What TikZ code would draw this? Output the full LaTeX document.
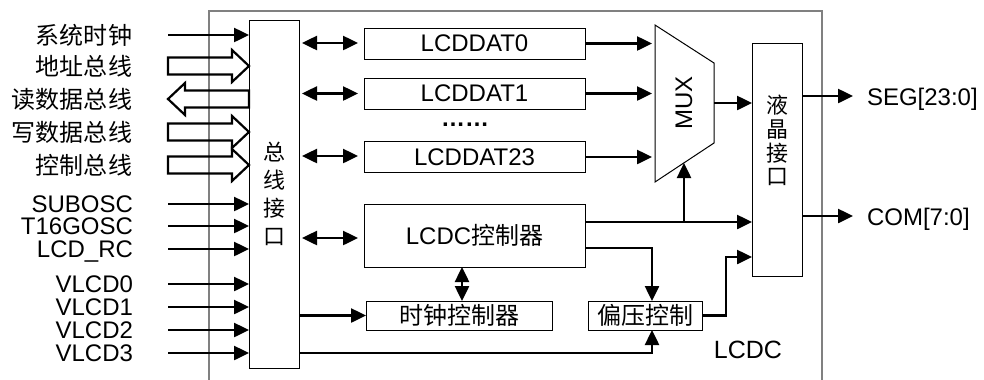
\documentclass[tikz,border=0pt]{standalone}
\usepackage{fontspec}
\setmainfont{Liberation Sans}
\newfontfamily\cjk{Noto Sans CJK SC}
\usetikzlibrary{arrows.meta,calc}
\begin{document}
\begin{tikzpicture}[x=1bp,y=-1bp,
  every node/.style={inner sep=0pt,outer sep=0pt},
  txt/.style={font=\fontsize{24bp}{26bp}\selectfont},
  blk/.style={draw=black,line width=1bp},
  sig/.style={line width=2.5bp,-{Triangle[length=15bp,width=14bp]}},
  dsig/.style={line width=2.5bp,{Triangle[length=15bp,width=14bp]}-{Triangle[length=15bp,width=14bp]}},
  hol/.style={line width=2.2bp,line join=miter},
  busin/.pic={\draw[hol] (-81,-8.5) -- (-17,-8.5) -- (-17,-16) -- (0,0) -- (-17,16) -- (-17,8.5) -- (-81,8.5) -- cycle;},
  busout/.pic={\draw[hol] (0,0) -- (17,-16) -- (17,-8.5) -- (81,-8.5) -- (81,8.5) -- (17,8.5) -- (17,16) -- cycle;}
]
\useasboundingbox (0,0) rectangle (984,379);
% outer LCDC frame
\draw[draw=black!50,line width=1.5bp] (209,385) -- (209,11) -- (822,11) -- (822,385);
\node[txt,font=\fontsize{25bp}{27bp}\selectfont,anchor=base] (lcdc) at (748,358) {LCDC};

% bus interface
\node[blk,minimum width=50bp,minimum height=348bp] (bus) at (274,194) {};
\node[align=center,font=\cjk\fontsize{22bp}{28bp}\selectfont] (bustxt) at (274,194) {总\\线\\接\\口};

% LCD interface
\node[blk,minimum width=50bp,minimum height=233bp] (lcd) at (777,159.5) {};
\node[align=center,font=\cjk\fontsize{22bp}{23.7bp}\selectfont] (lcdtxt) at (777,140.5) {液\\晶\\接\\口};

% data registers
\node[blk,txt,minimum width=221bp,minimum height=31bp] (d0) at (474.5,43.5) {LCDDAT0};
\node[blk,txt,minimum width=221bp,minimum height=31bp] (d1) at (474.5,93.5) {LCDDAT1};
\node[txt,anchor=base] (dots) at (465,126) {\bfseries ……};
\node[blk,txt,minimum width=221bp,minimum height=31bp] (d23) at (474.5,157) {LCDDAT23};

% controller, clock, bias
\node[blk,txt,minimum width=221bp,minimum height=63bp] (ctrl) at (474.5,235.5) {LCDC{\cjk 控制器}};
\node[blk,txt,minimum width=186bp,minimum height=29bp] (clk) at (459,315.5) {\cjk 时钟控制器};
\node[blk,txt,minimum width=114bp,minimum height=29bp] (bias) at (645,315.5) {\cjk 偏压控制};

% MUX
\draw[blk] (655,25) coordinate (m1) -- (714,63) coordinate (m2) -- (714,143) coordinate (m3) -- (655,182) coordinate (m4) -- cycle;
\node[txt,rotate=90] (mux) at (684,103) {MUX};
\coordinate (mo) at (714,103);
\coordinate (mb) at (684,163);

% left signals
\node[txt,anchor=east] (l1) at (132,35) {\cjk 系统时钟};
\node[txt,anchor=east] (l2) at (132,66) {\cjk 地址总线};
\node[txt,anchor=east] (l3) at (132,99) {\cjk 读数据总线};
\node[txt,anchor=east] (l4) at (132,132) {\cjk 写数据总线};
\node[txt,anchor=east] (l5) at (132,165) {\cjk 控制总线};
\node[txt,anchor=base east] (l6) at (133,212.5) {SUBOSC};
\node[txt,anchor=base east] (l7) at (133,234.5) {T16GOSC};
\node[txt,anchor=base east] (l8) at (133,257.5) {LCD\_RC};
\node[txt,anchor=base east] (l9) at (133,292.5) {VLCD0};
\node[txt,anchor=base east] (l10) at (133,315.5) {VLCD1};
\node[txt,anchor=base east] (l11) at (133,338.5) {VLCD2};
\node[txt,anchor=base east] (l12) at (133,361.5) {VLCD3};

\coordinate (s1) at (168,35);
\coordinate (s6) at (168,204);
\coordinate (s7) at (168,226);
\coordinate (s8) at (168,249);
\coordinate (s9) at (168,284);
\coordinate (s10) at (168,307);
\coordinate (s11) at (168,330);
\coordinate (s12) at (168,353);
\foreach \s in {s1,s6,s7,s8,s9,s10,s11,s12}{\draw[sig] (\s) -- (\s -| bus.west);}

\pic at (bus.west |- 0,66) {busin};
\pic at (168,99) {busout};
\pic at (bus.west |- 0,132) {busin};
\pic at (bus.west |- 0,165) {busin};

% bus <-> registers
\draw[dsig,shorten <=3bp,shorten >=6bp] (bus.east |- 0,43) -- (d0.west |- 0,43);
\draw[dsig,shorten <=3bp,shorten >=6bp] (bus.east |- 0,93.5) -- (d1.west |- 0,93.5);
\draw[dsig,shorten <=3bp,shorten >=6bp] (bus.east |- 0,156) -- (d23.west |- 0,156);
\draw[dsig,shorten <=3bp,shorten >=6bp] (bus.east |- 0,238) -- (ctrl.west |- 0,238);

% registers -> MUX
\draw[sig,shorten >=3bp] (d0.east) -- (d0.east -| m1);
\draw[sig,shorten >=3bp] (d1.east) -- (d1.east -| m1);
\draw[sig,shorten >=3bp] (d23.east) -- (d23.east -| m1);

% MUX -> LCD interface
\draw[sig] (mo) -- (mo -| lcd.west);

% controller outputs
\draw[sig] (ctrl.east |- 0,222) -- (lcd.west |- 0,222);
\draw[sig] (mb |- 0,222) -- (mb);
\draw[sig] (ctrl.east |- 0,248) -| ($(bias.north)+(7,0)$);
\draw[dsig] (ctrl.south -| 462,0) -- (clk.north -| 462,0);

% bus -> clock, bus -> bias
\draw[sig] (bus.east |- clk.west) -- (clk.west);
\draw[sig] (bus.east |- 0,353) -| ($(bias.south)+(7,0)$);

% bias -> LCD interface
\draw[sig] (bias.east) -| (726,257) -- (lcd.west |- 0,257);

% outputs
\coordinate (segend) at (853,96);
\coordinate (comend) at (853,216);
\draw[sig] (lcd.east |- segend) -- (segend);
\draw[sig] (lcd.east |- comend) -- (comend);
\node[txt,anchor=base west] (seg) at (867,105) {SEG[23:0]};
\node[txt,anchor=base west] (com) at (867,225) {COM[7:0]};
\end{tikzpicture}
\end{document}
